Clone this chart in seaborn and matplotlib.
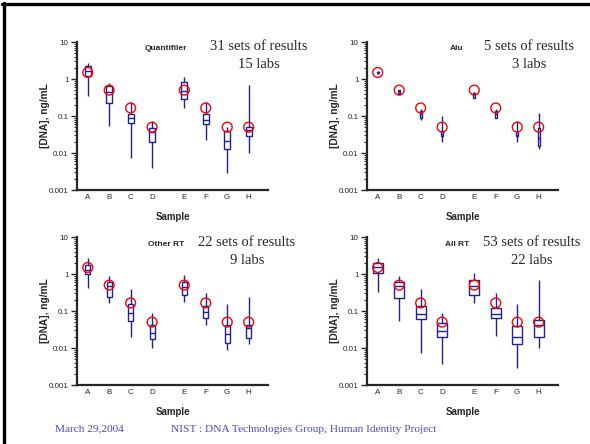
import numpy as np
import pandas as pd
import matplotlib
matplotlib.use("Agg")
import matplotlib.pyplot as plt
from matplotlib.lines import Line2D
from matplotlib.ticker import LogLocator, FuncFormatter, NullFormatter
import seaborn as sns

# sample labels and their positions on the x axis (gap between D and E)
samples = ["A", "B", "C", "D", "E", "F", "G", "H"]
sample_pos = [1, 2, 3, 4, 5.5, 6.5, 7.5, 8.5]

# reference (target) concentration per sample, ng/mL
reference = [1.5, 0.5, 0.165, 0.05, 0.5, 0.165, 0.05, 0.05]

# five-number summaries per sample: min, q1, median, q3, max
quantifiler = [
    [0.34, 1.23, 1.6, 2.2, 2.7],
    [0.055, 0.224, 0.45, 0.66, 0.78],
    [0.0073, 0.065, 0.088, 0.113, 0.234],
    [0.0039, 0.0198, 0.037, 0.047, 0.072],
    [0.164, 0.294, 0.48, 0.81, 1.11],
    [0.022, 0.062, 0.080, 0.113, 0.24],
    [0.0029, 0.0128, 0.0207, 0.0385, 0.05],
    [0.01, 0.028, 0.042, 0.052, 0.70],
]
alu = [
    [1.4, 1.45, 1.5, 1.55, 1.6],
    [0.38, 0.42, 0.47, 0.5, 0.52],
    [0.080, 0.088, 0.11, 0.134, 0.15],
    [0.0194, 0.028, 0.033, 0.039, 0.098],
    [0.31, 0.31, 0.36, 0.42, 0.45],
    [0.088, 0.088, 0.11, 0.134, 0.15],
    [0.0194, 0.028, 0.031, 0.036, 0.072],
    [0.013, 0.0155, 0.025, 0.047, 0.12],
]
other_rt = [
    [0.42, 0.98, 1.3, 1.79, 2.7],
    [0.168, 0.239, 0.46, 0.6, 0.865],
    [0.0198, 0.054, 0.090, 0.158, 0.40],
    [0.01, 0.0179, 0.0254, 0.043, 0.09],
    [0.18, 0.276, 0.44, 0.6, 0.96],
    [0.043, 0.066, 0.094, 0.14, 0.31],
    [0.0086, 0.0136, 0.0245, 0.041, 0.151],
    [0.013, 0.0186, 0.035, 0.041, 0.239],
]
all_rt = [
    [0.33, 1.09, 1.55, 2.02, 2.7],
    [0.0526, 0.229, 0.47, 0.61, 0.865],
    [0.0073, 0.062, 0.085, 0.136, 0.40],
    [0.0038, 0.0198, 0.029, 0.048, 0.09],
    [0.164, 0.265, 0.46, 0.67, 1.09],
    [0.021, 0.066, 0.081, 0.123, 0.31],
    [0.0028, 0.0126, 0.0198, 0.039, 0.151],
    [0.01, 0.0198, 0.041, 0.058, 0.70],
]

panel_names = ["Quantifiler", "Alu", "Other RT", "All RT"]
panel_sets = ["31 sets of results", "5 sets of results", "22 sets of results", "53 sets of results"]
panel_labs = ["15 labs", "3 labs", "9 labs", "22 labs"]
panel_data = [quantifiler, alu, other_rt, all_rt]
box_widths = [0.28, 0.09, 0.23, 0.46]

W, H = 590, 444
NAVY = "#1f1f8f"
FOOT = "#4848c8"

sns.set_style("ticks")
plt.rcParams["font.family"] = ["Liberation Sans", "DejaVu Sans"]

fig = plt.figure(figsize=(W / 100, H / 100), dpi=100)

# axes rectangles in pixels: left, right, top, bottom
rects = [(77, 268, 42, 190), (367, 558, 42, 190),
         (77, 268, 237, 385), (367, 558, 237, 385)]
# annotation anchor points in pixels: name x, sets x, top y
notes = [(166, 259, 48), (457, 529, 48), (166, 247, 244), (457, 532, 244)]


def fx(px):
    return px / W


def fy(py):
    return 1 - py / H


for i, (l, r, t, b) in enumerate(rects):
    ax = fig.add_axes([fx(l), fy(b), (r - l) / W, (b - t) / H])
    rows = []
    for s, p, stats in zip(samples, sample_pos, panel_data[i]):
        for v in stats:
            rows.append({"pos": p, "conc": v})
    df = pd.DataFrame(rows)

    sns.boxplot(data=df, x="pos", y="conc", native_scale=True, orient="x",
                log_scale=(False, True), whis=(0, 100), showcaps=False,
                fliersize=0, width=box_widths[i], color="white",
                linecolor=NAVY, linewidth=1.0, ax=ax)
    sns.scatterplot(x=sample_pos, y=reference, marker="o", s=50,
                    facecolor="none", edgecolor="red", linewidth=1.0,
                    zorder=6, ax=ax)

    ax.set_xlim(0.5, 9.4)
    ax.set_ylim(0.001, 10)
    ax.set_xticks(sample_pos)
    ax.set_xticklabels(samples, fontsize=5.8)
    ax.yaxis.set_major_locator(LogLocator(base=10, numticks=10))
    ax.yaxis.set_minor_locator(LogLocator(base=10, subs=np.arange(2, 10), numticks=20))
    ax.yaxis.set_major_formatter(FuncFormatter(lambda v, _: f"{v:g}"))
    ax.yaxis.set_minor_formatter(NullFormatter())
    ax.tick_params(axis="y", which="major", length=4, width=1.0, labelsize=5.8, pad=2)
    ax.tick_params(axis="y", which="minor", length=2.5, width=0.8)
    ax.tick_params(axis="x", length=0, pad=3)
    sns.despine(ax=ax)
    for sp in ["left", "bottom"]:
        ax.spines[sp].set_linewidth(1.6)
    ax.set_xlabel("Sample", fontsize=7, fontweight="bold", labelpad=8)
    ax.set_ylabel("[DNA], ng/mL", fontsize=7.3, fontweight="bold", labelpad=-1)
    ax.patch.set_alpha(0)

    nx, sx, ty = notes[i]
    fig.text(fx(nx), fy(ty), panel_names[i], fontsize=6, fontweight="bold",
             ha="center", va="center")
    fig.text(fx(sx), fy(ty - 1), panel_sets[i], fontsize=10.5,
             family=["Liberation Serif", "DejaVu Serif"], ha="center", va="center")
    fig.text(fx(sx), fy(ty + 17), panel_labs[i], fontsize=10.5,
             family=["Liberation Serif", "DejaVu Serif"], ha="center", va="center")

# footer
fig.text(fx(55), fy(429), "March 29,2004", fontsize=8.2, color=FOOT,
         family=["Liberation Serif", "DejaVu Serif"], ha="left", va="center")
fig.text(fx(171), fy(429), "NIST : DNA Technologies Group, Human Identity Project",
         fontsize=8.2, color=FOOT, family=["Liberation Serif", "DejaVu Serif"],
         ha="left", va="center")

# slide frame (top and left edges)
fig.add_artist(Line2D([fx(2), 1], [fy(4.5), fy(4.5)], color="black", linewidth=2.4))
fig.add_artist(Line2D([fx(3.5), fx(3.5)], [fy(3), 0], color="black", linewidth=2.4))

fig.savefig("out.png", dpi=100)
